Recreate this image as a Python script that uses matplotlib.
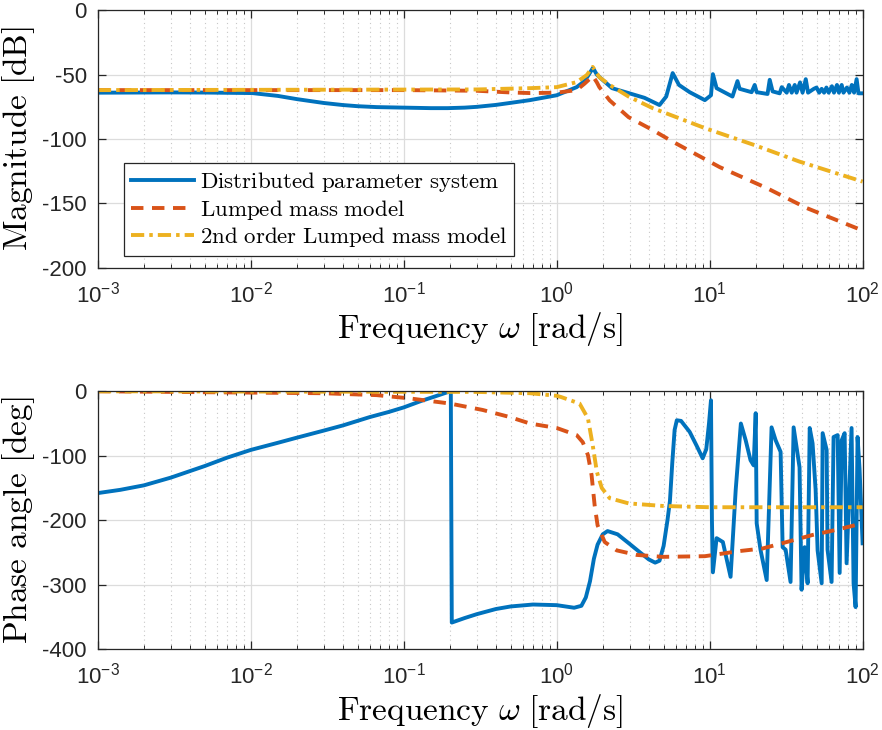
import matplotlib
matplotlib.use("Agg")
import matplotlib.pyplot as plt
from matplotlib.ticker import LogLocator, NullFormatter, MultipleLocator

plt.rcParams["font.family"] = ["Liberation Sans", "DejaVu Sans"]
plt.rcParams["mathtext.fontset"] = "cm"
plt.rcParams["axes.unicode_minus"] = False

# Distributed parameter system (blue)
dist_mag_w = [0.001, 0.003, 0.005, 0.0102, 0.015, 0.02, 0.03, 0.04, 0.05, 0.0667,
              0.1, 0.15, 0.194, 0.25, 0.3, 0.4, 0.493, 0.667, 1.0, 1.35,
              1.52, 1.6, 1.69, 1.72, 1.75, 1.83, 1.97, 2.3, 2.95, 3.75,
              4.7, 5.2, 5.73, 6.3, 7.4, 9.3, 10.2, 10.5, 11.1, 14.1,
              15.2, 15.7, 18.8, 19.7, 20.3, 23.9, 24.7, 25.8, 28.7, 29.6,
              31.9, 33.0, 34.4, 36.0, 37.0, 39.0, 40.5, 42.5, 44.0, 48.0,
              50.0, 52.0, 54.0, 56.0, 58.0, 60.0, 63.0, 65.0, 68.0, 70.0,
              73.0, 75.0, 79.0, 82.0, 85.0, 88.0, 91.4, 94.0, 100.0]
dist_mag_db = [-64, -63.8, -63.9, -64.3, -66.5, -69, -72, -73.6, -74.5, -75.2,
               -75.6, -76, -76, -75.6, -75, -73.5, -72, -69.8, -66, -59.7,
               -55, -51, -46.5, -45, -46, -50, -53.5, -60.5, -64.3, -68,
               -73.6, -67, -48.8, -58, -63.6, -69.8, -66, -49.6, -60.5, -67,
               -55, -61, -63.6, -58, -63.6, -65, -54, -63, -64.5, -59.7,
               -64, -58, -64, -58, -64, -56, -64, -53.5, -64, -61,
               -60, -64, -61, -64, -60, -64, -59, -64, -58, -64,
               -58, -64, -60, -64, -58, -64, -53.5, -64.5, -64.5]

dist_ph_w = [0.001, 0.0014, 0.002, 0.003, 0.005, 0.007, 0.01, 0.015, 0.02, 0.03,
             0.04, 0.06, 0.08, 0.1, 0.13, 0.16, 0.19, 0.203, 0.206, 0.25,
             0.3, 0.4, 0.5, 0.7, 1.0, 1.3, 1.45, 1.55, 1.65, 1.75,
             1.85, 2.0, 2.15, 2.5, 3.0, 3.5, 4.0, 4.4, 4.7, 5.0,
             5.3, 5.5, 5.7, 5.9, 6.1, 6.5, 7.4, 8.2, 9.0, 9.5,
             9.9, 10.2, 10.35, 10.5, 11.1, 12.2, 13.7, 14.8, 16.0, 17.2,
             18.5, 19.4, 20.0, 20.3, 21.5, 23.6, 25.4, 27.0, 29.1, 30.0,
             31.4, 33.8, 35.4, 38.7, 39.9, 41.8, 43.7, 45.1, 47.1, 49.3,
             50.8, 54.0, 54.8, 58.2, 59.0, 62.7, 64.6, 68.7, 70.8, 73.0,
             76.3, 78.6, 84.7, 87.3, 90.0, 92.7, 95.5, 100.0]
dist_ph_deg = [-158, -153, -146, -134, -116, -103, -91, -80, -72, -61,
               -53, -40, -32, -25, -15, -8, -2, 0, -359, -352,
               -346, -338, -334, -331, -332, -336, -333, -320, -295, -260,
               -238, -222, -217, -222, -237, -250, -261, -266, -263, -240,
               -200, -170, -110, -60, -45, -46, -63, -84, -104, -90,
               -50, -14, -200, -281, -228, -234, -288, -153, -50, -76,
               -107, -115, -34, -205, -246, -293, -56, -76, -94, -242,
               -246, -296, -56, -118, -308, -242, -298, -57, -81, -153,
               -247, -298, -65, -91, -246, -296, -71, -68, -282, -76,
               -65, -267, -57, -298, -335, -71, -120, -236]

# Lumped mass model (red)
lump_mag_w = [0.001, 0.1, 0.3, 0.493, 0.667, 1.0, 1.35, 1.52, 1.69, 1.72,
              1.83, 1.9, 2.22, 2.95, 4.24, 5.73, 11.6, 23.6, 43.0, 100.0]
lump_mag_db = [-62, -62, -62.5, -63.8, -64.3, -64, -62, -57, -52, -51,
               -56, -59.7, -70, -83, -93, -102, -121.7, -138, -153.5, -171]
lump_ph_w = [0.001, 0.0296, 0.0667, 0.109, 0.2, 0.328, 0.493, 0.667, 1.0, 1.35,
             1.48, 1.60, 1.69, 1.77, 1.85, 2.06, 2.47, 3.33, 4.93, 9.3,
             15.7, 22.2, 31.9, 47.1, 67.6, 100.0]
lump_ph_deg = [0, -3, -6, -11, -19, -29, -40, -50, -57, -68,
               -79, -99, -130, -177, -208, -234, -247, -254, -257, -256,
               -248, -244, -234, -223, -215, -205]

# 2nd order lumped mass model (yellow)
lump2_mag_w = [0.001, 0.3, 0.667, 1.0, 1.35, 1.57, 1.72, 1.9, 2.22, 2.95,
               4.24, 6.37, 9.3, 20.0, 38.7, 100.0]
lump2_mag_db = [-62, -61.5, -60.5, -59.7, -55.8, -50.4, -44, -52, -58, -67,
                -76, -84, -91.5, -105, -117.5, -133]
lump2_ph_w = [0.001, 0.3, 0.667, 1.0, 1.07, 1.41, 1.60, 1.72, 1.83, 1.97,
              2.22, 2.95, 4.93, 10.0, 100.0]
lump2_ph_deg = [0, -1, -3, -7, -9, -19, -42, -84, -125, -150,
                -166, -174, -178, -180, -180]

labels = ["Distributed parameter system", "Lumped mass model",
          "2nd order Lumped mass model"]
colors = ["#0072BD", "#D95319", "#EDB120"]
dash = (0, (3.2, 2.2))
dashdot = (0, (3.4, 1.3, 0.9, 1.3))

fig = plt.figure(figsize=(8.82, 7.30), dpi=100)
ax1 = fig.add_axes([0.111, 0.633, 0.867, 0.353])
ax2 = fig.add_axes([0.111, 0.111, 0.867, 0.353])

lw = 2.8
ax1.plot(dist_mag_w, dist_mag_db, color=colors[0], lw=lw, label=labels[0])
ax1.plot(lump_mag_w, lump_mag_db, color=colors[1], lw=lw, ls=dash, label=labels[1])
ax1.plot(lump2_mag_w, lump2_mag_db, color=colors[2], lw=lw, ls=dashdot, label=labels[2])

ax2.plot(dist_ph_w, dist_ph_deg, color=colors[0], lw=lw)
ax2.plot(lump_ph_w, lump_ph_deg, color=colors[1], lw=lw, ls=dash)
ax2.plot(lump2_ph_w, lump2_ph_deg, color=colors[2], lw=lw, ls=dashdot)

for ax in (ax1, ax2):
    ax.set_xscale("log")
    ax.set_xlim(1e-3, 1e2)
    ax.xaxis.set_major_locator(LogLocator(base=10, numticks=10))
    ax.xaxis.set_minor_locator(LogLocator(base=10, subs=range(2, 10), numticks=20))
    ax.xaxis.set_minor_formatter(NullFormatter())
    ax.grid(True, which="major", color="#dcdcdc", lw=0.9)
    ax.grid(True, which="minor", color="#c8c8c8", lw=0.8, ls=(0, (1, 3)))
    ax.set_axisbelow(True)
    ax.tick_params(which="both", direction="in", top=True, right=True,
                   labelsize=16, colors="#262626")
    ax.tick_params(which="major", length=6, width=0.9)
    ax.tick_params(which="minor", length=3, width=0.7)
    ax.tick_params(axis="x", which="major", pad=10)
    ax.tick_params(axis="y", which="major", pad=8)
    for s in ax.spines.values():
        s.set_color("#262626")
        s.set_linewidth(0.9)
    ax.set_xlabel(r"$\mathrm{Frequency}\ \omega\ \mathrm{[rad/s]}$", fontsize=24, labelpad=2)

ax1.set_ylim(-200, 0)
ax1.yaxis.set_major_locator(MultipleLocator(50))
ax1.set_ylabel(r"$\mathrm{Magnitude\ [dB]}$", fontsize=24)
ax2.set_ylim(-400, 0)
ax2.yaxis.set_major_locator(MultipleLocator(100))
ax2.set_ylabel(r"$\mathrm{Phase\ angle\ [deg]}$", fontsize=24)
for ax in (ax1, ax2):
    ax.yaxis.set_label_coords(-0.08, 0.5)

leg = ax1.legend([h for h in ax1.get_lines()],
                 [r"$\mathrm{" + l.replace(" ", r"\ ") + "}$" for l in labels],
                 loc="lower left", bbox_to_anchor=(0.034, 0.046), borderaxespad=0,
                 fontsize=16.5, handlelength=2.75, handletextpad=0.25,
                 labelspacing=0.15, borderpad=0.3, fancybox=False, framealpha=1)
leg.get_frame().set_edgecolor("#262626")
leg.get_frame().set_linewidth(0.9)

fig.savefig("out.png", dpi=100)
